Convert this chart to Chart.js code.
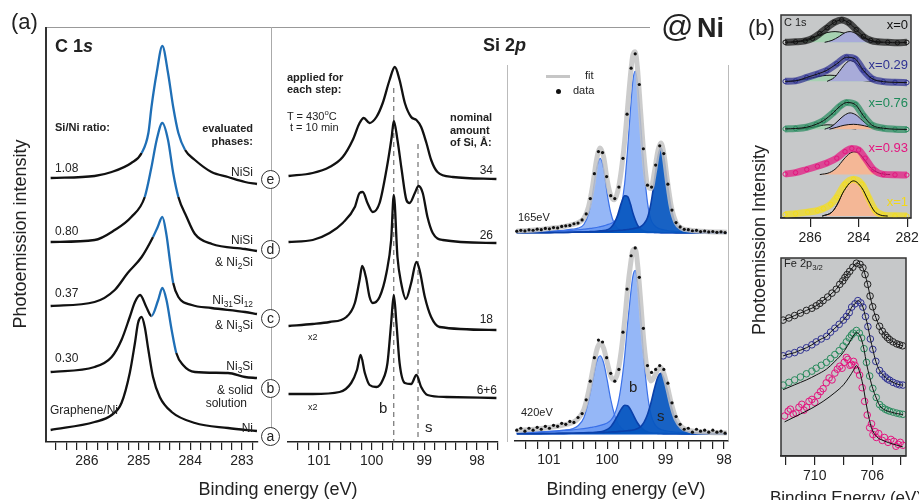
<!DOCTYPE html>
<html>
<head>
<meta charset="utf-8">
<script src="https://cdn.jsdelivr.net/npm/chart.js@4.4.1/dist/chart.umd.min.js"></script>
<style>
  body { margin: 0; width: 919px; height: 500px; overflow: hidden; position: relative; background: #fff;
         font-family: "Liberation Sans", Arial, sans-serif; color: #222; }
  canvas { position: absolute; }
  .t { position: absolute; white-space: nowrap; line-height: 1; }
  .b { font-weight: bold; }
  .r { text-align: right; }
  .ln { position: absolute; }
  .cl { position: absolute; width: 17px; height: 17px; border: 1.3px solid #333; border-radius: 50%;
        background: #fff; font-size: 14px; text-align: center; line-height: 16px; }
  sub { font-size: 70%; vertical-align: -3px; line-height: 0; }
  sup { font-size: 70%; vertical-align: 5px; line-height: 0; }
</style>
</head>
<body>
<!-- frame lines -->
<div class="ln" style="left:46px;top:27px;width:604px;height:1px;background:#999"></div>
<div class="ln" style="left:45px;top:27px;width:1.5px;height:415px;background:#333"></div>
<div class="ln" style="left:271px;top:27px;width:1px;height:418px;background:#aaa"></div>
<div class="ln" style="left:507px;top:65px;width:1px;height:377px;background:#bbb"></div>
<div class="ln" style="left:728px;top:65px;width:1px;height:377px;background:#bbb"></div>

<canvas id="c1sChart"></canvas>
<canvas id="siChart"></canvas>
<canvas id="fitTop"></canvas>
<canvas id="fitBottom"></canvas>
<canvas id="bC1s"></canvas>
<canvas id="bFe"></canvas>

<!-- panel (a) texts -->
<div class="t" style="left:11px;top:11px;font-size:22px">(a)</div>
<div class="t b" style="left:55px;top:37px;font-size:18px">C 1<i>s</i></div>
<div class="t b" style="left:55px;top:122px;font-size:11px">Si/Ni ratio:</div>
<div class="t b r" style="right:666px;top:122px;font-size:11px;line-height:13px">evaluated<br>phases:</div>
<div class="t" style="left:55px;top:162px;font-size:12px">1.08</div>
<div class="t" style="left:55px;top:225px;font-size:12px">0.80</div>
<div class="t" style="left:55px;top:287px;font-size:12px">0.37</div>
<div class="t" style="left:55px;top:352px;font-size:12px">0.30</div>
<div class="t" style="left:50px;top:404px;font-size:12px">Graphene/Ni</div>
<div class="t r" style="right:666px;top:166px;font-size:12px">NiSi</div>
<div class="t r" style="right:666px;top:234px;font-size:12px">NiSi</div>
<div class="t r" style="right:666px;top:256px;font-size:12px">&amp; Ni<sub>2</sub>Si</div>
<div class="t r" style="right:666px;top:294px;font-size:12px">Ni<sub>31</sub>Si<sub>12</sub></div>
<div class="t r" style="right:666px;top:319px;font-size:12px">&amp; Ni<sub>3</sub>Si</div>
<div class="t r" style="right:666px;top:360px;font-size:12px">Ni<sub>3</sub>Si</div>
<div class="t r" style="right:666px;top:384px;font-size:12px">&amp; solid</div>
<div class="t r" style="right:672px;top:397px;font-size:12px">solution</div>
<div class="t r" style="right:666px;top:422px;font-size:12px">Ni</div>

<div class="cl" style="left:261px;top:170px">e</div>
<div class="cl" style="left:261px;top:240px">d</div>
<div class="cl" style="left:261px;top:309px">c</div>
<div class="cl" style="left:261px;top:379px">b</div>
<div class="cl" style="left:261px;top:427px">a</div>

<div class="t b" style="left:287px;top:71px;font-size:11px;line-height:12px">applied for<br>each step:</div>
<div class="t" style="left:287px;top:111px;font-size:11px">T = 430<sup>o</sup>C</div>
<div class="t" style="left:290px;top:122px;font-size:11px">t = 10 min</div>
<div class="t b" style="left:450px;top:111px;font-size:11px;line-height:12.5px">nominal<br>amount<br>of Si, Å:</div>
<div class="t r" style="right:426px;top:164px;font-size:12px">34</div>
<div class="t r" style="right:426px;top:229px;font-size:12px">26</div>
<div class="t r" style="right:426px;top:313px;font-size:12px">18</div>
<div class="t r" style="right:422px;top:384px;font-size:12px">6+6</div>
<div class="t" style="left:308px;top:333px;font-size:9px">x2</div>
<div class="t" style="left:308px;top:403px;font-size:9px">x2</div>
<div class="t" style="left:379px;top:400px;font-size:15px">b</div>
<div class="t" style="left:425px;top:419px;font-size:15px">s</div>
<div class="t b" style="left:483px;top:36px;font-size:18px">Si 2<i>p</i></div>

<div class="t" style="left:661px;top:10px;font-size:32px">@</div>
<div class="t b" style="left:697px;top:15px;font-size:27px">Ni</div>

<div class="ln" style="left:546px;top:75px;width:24px;height:3px;background:#c6c6c6"></div>
<div class="t" style="left:585px;top:70px;font-size:11px">fit</div>
<div class="ln" style="left:556px;top:89px;width:5px;height:5px;border-radius:50%;background:#111"></div>
<div class="t" style="left:573px;top:85px;font-size:11px">data</div>
<div class="t" style="left:518px;top:212px;font-size:11px">165eV</div>
<div class="t" style="left:521px;top:407px;font-size:11px">420eV</div>
<div class="t" style="left:629px;top:379px;font-size:15px">b</div>
<div class="t" style="left:657px;top:408px;font-size:15px">s</div>

<div class="t" style="left:128px;top:480px;width:300px;text-align:center;font-size:18px">Binding energy (eV)</div>
<div class="t" style="left:476px;top:480px;width:300px;text-align:center;font-size:18px">Binding energy (eV)</div>
<div class="t" style="left:-130px;top:225px;width:300px;text-align:center;font-size:18px;transform:rotate(-90deg)">Photoemission intensity</div>

<!-- panel (b) texts -->
<div class="t" style="left:748px;top:17px;font-size:22px">(b)</div>
<div class="t" style="left:609px;top:231px;width:300px;text-align:center;font-size:18px;transform:rotate(-90deg)">Photoemission Intensity</div>
<div class="t" style="left:696px;top:489px;width:300px;text-align:center;font-size:17px">Binding Energy (eV)</div>
<div class="t" style="left:784px;top:17px;font-size:11px">C 1s</div>
<div class="t r" style="right:11px;top:18px;font-size:13px;color:#111">x=0</div>
<div class="t r" style="right:11px;top:58px;font-size:13px;color:#2e3192">x=0.29</div>
<div class="t r" style="right:11px;top:96px;font-size:13px;color:#1f8a5a">x=0.76</div>
<div class="t r" style="right:11px;top:141px;font-size:13px;color:#e4157f">x=0.93</div>
<div class="t r" style="right:11px;top:195px;font-size:13px;color:#f2d81a">x=1</div>
<div class="t" style="left:784px;top:258px;font-size:11px">Fe 2p<sub>3/2</sub></div>

<script>
// ---------- panel (a), C 1s waterfall (intensity, arb. units) ----------
const c1sE_a = [286.70,285.85,285.52,285.33,285.17,285.07,285.01,284.94,284.88,284.81,284.72,284.59,284.36,283.91,283.27,282.71];
const c1sI_a = [12,20,27,39,69,99,119,125,115,92,65,45,30,19,14,11];
const c1sE_b = [286.70,285.85,285.52,285.33,285.17,285.07,284.97,284.85,284.75,284.62,284.54,284.46,284.36,284.27,284.14,283.91,283.27,282.94,282.71];
const c1sI_b = [70,75,85,102,125,140,147,135,126,142,154,142,112,89,77,70,69,65,64];
const c1sE_c = [286.70,285.85,285.46,285.21,284.94,284.72,284.63,284.54,284.46,284.39,284.33,284.23,283.97,283.59,282.94,282.71];
const c1sI_c = [136,140,152,169,185,205,215,225,207,180,159,145,137,134,130,128];
const c1sE_d = [286.70,285.85,285.46,285.14,284.88,284.75,284.65,284.54,284.43,284.33,284.23,284.07,283.91,283.58,282.94,282.71];
const c1sI_d = [200,202,212,225,245,275,302,319,302,269,245,225,208,198,193,191];
const c1sE_e = [286.70,285.85,285.52,285.14,284.94,284.81,284.75,284.65,284.54,284.43,284.33,284.23,284.10,283.91,283.59,283.27,282.94,282.71];
const c1sI_e = [264,266,270,279,289,309,335,369,396,369,335,309,292,282,270,265,260,258];
// energy window of the blue-highlighted peak per curve [low, high]
const c1sBlue = { a: null, b: [284.17, 284.75], c: [284.26, 284.72], d: [284.16, 284.88], e: [284.05, 284.94] };

// ---------- panel (a), Si 2p waterfall ----------
const siE_b = [101.58,101.12,100.61,100.39,100.28,100.21,100.13,100.04,99.91,99.79,99.70,99.63,99.58,99.53,99.47,99.37,99.25,99.15,99.06,98.94,98.58,97.63];
const siI_b = [48,48,50,59,72,87,69,57,55,62,79,119,147,119,79,59,58,67,55,47,45,44];
const siE_c = [101.58,101.12,100.80,100.48,100.32,100.23,100.18,100.11,100.04,99.98,99.85,99.72,99.63,99.58,99.51,99.44,99.35,99.25,99.15,99.09,98.99,98.87,98.71,97.63];
const siI_c = [116,118,120,125,139,162,176,165,145,139,145,169,202,247,185,159,143,159,180,172,145,125,115,112];
const siE_d = [101.58,101.12,100.80,100.55,100.32,100.23,100.17,100.08,99.98,99.85,99.72,99.62,99.58,99.51,99.43,99.34,99.28,99.18,99.11,99.03,98.94,98.84,98.65,97.63];
const siI_d = [200,202,209,219,235,249,250,239,230,239,272,305,321,302,272,242,239,249,256,249,225,209,202,199];
const siE_e = [101.58,101.12,100.80,100.55,100.36,100.23,100.15,100.04,99.91,99.79,99.66,99.56,99.47,99.37,99.25,99.15,99.06,98.96,98.87,98.75,98.46,97.63];
const siI_e = [266,269,275,285,302,319,324,319,325,339,362,375,362,339,325,322,315,299,282,270,265,263];
const dashB = { x: 99.58, top: 354 };
const dashS = { x: 99.12, top: 298 };

// ---------- panel (a), Si 2p peak fits ----------
const fitE = [101.55,101.3,101.1,100.9,100.75,100.6,100.5,100.4,100.32,100.25,100.18,100.12,100.06,100.0,99.94,99.88,99.82,99.76,99.7,99.65,99.6,99.56,99.52,99.48,99.43,99.37,99.31,99.25,99.19,99.13,99.08,99.03,98.97,98.9,98.82,98.72,98.6,98.45,98.25,97.95];
const up165_b32 = [0.9,1.2,1.6,2.0,2.4,2.9,3.5,4.1,4.7,5.2,5.9,6.8,7.6,8.8,10.1,11.8,16.9,28,52,88,130,159,169,156,117,68,32,14,8,5.2,4.1,3.4,2.6,2.1,1.6,1.3,1.0,0.8,0.5,0.3];
const up165_b12 = [0.9,1.2,1.6,2.3,3.0,4.1,5.2,9.0,20,41,68,78,67,41,21.5,10,4.8,2.7,2.1,1.6,1.3,1.2,1.05,0.9,0.8,0.7,0.6,0.5,0.45,0.4,0.35,0.3,0.3,0.25,0.2,0.2,0.15,0.1,0.1,0.1];
const up165_s12 = [0.24,0.36,0.46,0.6,0.7,0.9,1.1,1.2,1.5,1.7,2.0,2.3,2.6,3.5,5.6,10.4,19,31,39,38,30,21,14,8.4,4.4,2.2,1.4,1.0,0.8,0.6,0.5,0.45,0.4,0.35,0.3,0.28,0.25,0.2,0.15,0.1];
const up165_s32 = [0.3,0.38,0.48,0.58,0.7,0.9,1.0,1.1,1.2,1.4,1.5,1.7,1.9,2.0,2.1,2.5,2.8,3.0,3.4,3.7,4.2,4.6,5.1,5.6,6.7,9.8,16,31,55,80,89,79,52,24.5,9,3.1,1.8,1.1,0.7,0.4];
const up165_fit = [2.3,3.1,4.1,5.5,6.8,8.8,10.8,15.4,27.4,49.3,77.4,88.8,79.1,55.3,39.3,34.7,43.5,64.7,96.5,131.3,165.5,185.8,189.2,170.9,128.9,80.7,50,46.5,64.2,86.2,94,83.2,55.3,27.2,11.1,4.9,3.2,2.2,1.5,0.9];
const lo420_b32 = [1.6,2.0,2.4,3.0,3.7,4.3,5.0,5.7,6.3,7.2,8.0,8.9,10,11.4,14,19.5,30,50,80,113,142,161,167,155,122,76,41,20,10.5,6.3,4.8,3.8,3.2,2.5,2.0,1.5,1.2,0.9,0.6,0.4];
const lo420_b12 = [1.4,1.8,2.4,3.1,4.0,5.4,8.6,16.8,34,54,74,80,72.5,55,35.6,20.8,11.2,6.3,3.8,2.8,2.3,2.0,1.7,1.5,1.3,1.1,1.0,0.9,0.8,0.7,0.65,0.6,0.55,0.5,0.45,0.4,0.35,0.3,0.25,0.2];
const lo420_s12 = [0.33,0.42,0.5,0.66,0.8,0.96,1.1,1.3,1.5,1.7,2.0,2.3,3.2,4.8,7.5,12.6,19,25.5,29.4,29,25,20.4,15.6,11.4,7.4,4.0,2.3,1.35,0.95,0.78,0.63,0.55,0.48,0.4,0.35,0.3,0.25,0.2,0.15,0.1];
const lo420_s32 = [0.37,0.46,0.58,0.71,0.8,0.92,1.0,1.15,1.3,1.45,1.55,1.7,1.85,1.95,2.2,2.35,2.6,2.9,3.2,3.5,3.85,4.25,4.8,5.75,7.5,12,20,32,46.6,58.4,62,57,44.7,27.6,13,5,2.1,1.15,0.75,0.4];
const lo420_fit = [3.7,4.7,5.9,7.5,9.3,11.6,15.7,25,43.1,64.4,85.6,92.9,87.6,73.2,59.3,55.3,62.8,84.7,116.4,148.3,173.2,187.7,189.1,173.7,138.2,93.1,64.3,54.3,58.9,66.2,68.1,62,48.9,31,15.8,7.2,3.9,2.55,1.75,1.1];
const dotE = [101.55,101.48,101.41,101.34,101.27,101.2,101.13,101.06,100.99,100.92,100.85,100.78,100.71,100.64,100.57,100.5,100.43,100.36,100.29,100.22,100.15,100.08,100.01,99.94,99.87,99.8,99.73,99.66,99.59,99.52,99.45,99.38,99.31,99.24,99.17,99.1,99.03,98.96,98.89,98.82,98.75,98.68,98.61,98.54,98.47,98.4,98.33,98.26,98.19,98.12,98.05,97.98];
const up165_dots = [2.0,2.9,2.3,3.4,3.0,4.1,3.6,4.9,4.5,5.8,5.4,7.0,7.6,8.0,9.8,10.5,13.8,20,36,62,85,84,59,39,36,48,78,124,172,187,155,88,50,48,71,91,83,51,24,11,6.5,4.0,3.6,2.5,2.9,1.6,2.2,1.2,1.7,0.8,1.4,0.6];
const lo420_dots = [4,6,3,6,4,7,5,8,6,9,8,11,10,13,12,17,21,35,54,78,96,94,78,62,54,66,104,148,182,190,160,108,70,63,66,70,66,52,32,18,10,5,6,2,5,3,4,2,4,2,3,1];

// ---------- panel (b), C 1s of the x series ----------
const bx0_E = [287.03,286.6,286.2,285.9,285.6,285.3,285.0,284.7,284.4,284.1,283.8,283.5,283.2,282.8,282.4,282.01];
const bx0_I = [180,180.5,181.5,184,189,195,200.5,203,200,193,186,182,180.5,180,179.5,180];
const bx0_greenE = [286.8,286.4,286.0,285.6,285.3,284.97,284.6,284.3,284.0,283.6,283.2];
const bx0_greenI = [180,181.5,184,187.5,190,191,189.5,186.5,183.5,181,180];
const bx0_blueE = [285.4,285.1,284.8,284.55,284.35,284.1,283.85,283.6,283.3,283.0];
const bx0_blueI = [180,182,186,190,191,189,185.5,182.5,180.5,180];
const bx29_E = [287.03,286.6,286.14,285.7,285.31,284.9,284.49,284.14,283.8,283.46,282.98,282.5,282.01];
const bx29_I = [140,140.5,144,147.5,151.3,158,164.7,163,151.3,143,139.7,139,138.7];
const bx29_greenE = [286.9,286.4,285.9,285.5,285.18,284.8,284.4,284.0,283.6,283.3];
const bx29_greenI = [140,141.5,143.8,145.7,146.3,145.5,143.5,141.5,140.3,140];
const bx29_blueE = [285.3,285.0,284.8,284.6,284.35,284.1,283.85,283.6,283.35,283.0];
const bx29_blueI = [140,144,150,156.5,161.3,158.5,152,145.5,141.5,140];
const bx76_E = [287.03,286.6,286.14,285.75,285.45,285.04,284.76,284.49,284.14,283.8,283.46,282.98,282.5,282.01];
const bx76_I = [91.3,91.7,93,96,99.7,108,114.7,118.3,116.3,104.7,95.3,92,91,90.7];
const bx76_greenE = [286.5,286.0,285.6,285.3,285.0,284.7,284.4,284.1];
const bx76_greenI = [91,92.5,94.5,95.5,95,93.5,92,91];
const bx76_blueE = [285.4,285.1,284.85,284.6,284.35,284.1,283.85,283.6,283.3,283.0];
const bx76_blueI = [91,94,99.5,105,107.7,105.5,100,95,92,91];
const bx76_salmonE = [285.2,284.9,284.6,284.21,283.9,283.6,283.3,283.0];
const bx76_salmonI = [91,93,95,96,95.2,93.5,92,91];
const bx93_E = [287.03,286.6,286.14,285.7,285.31,284.9,284.56,284.28,284.0,283.73,283.39,282.98,282.5,282.01];
const bx93_I = [45,46.5,49.7,53,56.3,61.3,68,71.3,69.7,61.3,49.7,44.7,44.2,44];
const bx93_salmonE = [285.6,285.2,284.9,284.6,284.35,284.2,284.0,283.75,283.5,283.2,282.9,282.7];
const bx93_salmonI = [44.5,46.5,51.5,60.5,66.5,67.8,66.5,59.5,51.5,46.5,44.8,44.5];
const bx1_E = [287.03,286.6,286.1,285.7,285.45,285.15,284.9,284.56,284.21,283.87,283.6,283.32,282.98,282.5,282.01];
const bx1_I = [3.5,4.5,6,7.5,9.7,14,21.3,34.7,39.7,34.7,21.3,8,3,2.2,2];
const bx1_salmonE = [285.5,285.1,284.9,284.6,284.21,283.87,283.6,283.35,283.1,282.8];
const bx1_salmonI = [2,6,13,28,38,31,18,7,3,2];
const bBase = { x0: 180, x29: 140, x76: 91, x93: 44.5, x1: 2 };

// ---------- panel (b), Fe 2p3/2 ----------
const feK_E = [712.2,711.8,711.4,711.0,710.58,710.2,709.9,709.65,709.42,709.1,708.8,708.5,708.26,708.05,707.9,707.75,707.57,707.35,707.1,706.85,706.65,706.5,706.32,706.15,705.97,705.75,705.49,705.3,705.1,704.95,704.79,704.55,704.3,704.1,703.89];
const feK_I = [139.3,141.5,144,146.5,149.3,151.5,154,156.5,159.3,163,167,171,176,179.5,183,186,189.3,193.5,197.7,196.5,193,186,176,164,153,142,133,128,124,121.5,119.3,117,115,114,113];
const feN_E = [712.2,711.8,711.4,711.0,710.58,710.2,709.9,709.55,709.17,708.9,708.6,708.3,708.01,707.8,707.6,707.43,707.2,707.0,706.8,706.65,706.47,706.3,706.13,705.96,705.75,705.49,705.3,705.1,704.95,704.79,704.55,704.3,704.1,703.87];
const feN_I = [102.7,104.5,106,108.5,111,114,117,120,122.7,127,131,135,139.3,143,147,152.7,156,159.3,157,152.7,143,132.7,120,109.3,97,87.7,84,81,79,77.7,75.5,74,73,72.7];
const feG_E = [712.2,711.8,711.4,711.0,710.58,710.2,709.9,709.55,709.19,708.9,708.6,708.3,708.03,707.8,707.6,707.45,707.33,707.1,706.9,706.74,706.57,706.4,706.18,705.96,705.72,705.49,705.3,705.1,704.95,704.79,704.55,704.3,704.1,703.87];
const feG_I = [72.7,75.5,78,81,84.3,87,90,93,96,100,104,108,112.7,117,121,124,126,128.7,126,121,110,96,82,69.3,60,52.7,50,48,47,46,45,44,43.3,42.7];
const feG_fitE = [712.2,711.4,710.58,709.9,709.19,708.6,708.03,707.6,707.33,707.1,706.9,706.74,706.57,706.4,706.18,705.96,705.72,705.49,705.1,704.79,704.3,703.87];
const feG_fitI = [68,73,78,83,89,97,106,116,123,126.5,124.5,119,109,95,81,69,59.5,52,47,45.5,43.5,42.5];
const feM_E = [712.1,711.85,711.7,711.5,711.3,711.1,710.9,710.75,710.58,710.4,710.2,710.0,709.8,709.6,709.42,709.2,709.0,708.8,708.6,708.43,708.26,708.1,707.95,707.8,707.7,707.55,707.45,707.3,707.2,707.05,706.88,706.7,706.53,706.35,706.18,706.05,705.95,705.8,705.72,705.55,705.3,705.15,704.9,704.7,704.5,704.35,704.2,704.05,703.87];
const feM_I = [41,46,48,43,44,50,53,47,50,56,58,55,62,66,69,75,80,78,85,89,92,90,96,101,99,93,94,97,93,88,83,70,56,42,29,33,22,25,19,23,16,19,14,17,15,10,12,14,11];
const feM_fitE = [712.1,711.0,710.2,709.42,708.6,708.0,707.6,707.3,707.1,706.85,706.65,706.35,706.06,705.7,705.26,704.5,703.87];
const feM_fitI = [35,43,49,56,65,73,81,88,92.7,85,72.7,48,29.3,20,16,12,9.3];

// ---------- helpers ----------
Chart.defaults.font.family = "'Liberation Sans', Arial, sans-serif";
const pts = (E, I) => E.map((e, i) => ({ x: e, y: I[i] }));
const intLabel = v => (Math.abs(v - Math.round(v)) < 0.01 ? String(Math.round(v)) : '');

const panelBox = {
  id: 'panelBox',
  beforeDraw(chart) {
    const { ctx, chartArea: a } = chart;
    ctx.save(); ctx.fillStyle = '#c6c8c9'; ctx.fillRect(a.left, a.top, a.width, a.height); ctx.restore();
  },
  afterDraw(chart) {
    const { ctx, chartArea: a } = chart;
    ctx.save(); ctx.strokeStyle = '#333'; ctx.lineWidth = 1.5; ctx.strokeRect(a.left, a.top, a.width, a.height); ctx.restore();
  }
};

function makeChart(id, box, x, y, datasets, plugins) {
  const pad = 26;
  const axisH = x.axisH || 0;
  const cv = document.getElementById(id);
  cv.width = box.w + 2 * pad;
  cv.height = box.h + axisH;
  cv.style.left = (box.x - pad) + 'px';
  cv.style.top = box.y + 'px';
  datasets.forEach((d, i) => { d.order = datasets.length - i; });  // first listed = drawn first
  return new Chart(cv, {
    type: 'line',
    data: { datasets },
    options: {
      responsive: false, animation: false, devicePixelRatio: 1,
      layout: { padding: { left: pad, right: pad, top: 0, bottom: 0 } },
      plugins: { legend: { display: false }, tooltip: { enabled: false } },
      elements: {
        point: { radius: 0 },
        line: { borderWidth: 2.2, borderColor: '#111', cubicInterpolationMode: 'monotone', fill: false }
      },
      scales: {
        x: {
          type: 'linear', reverse: true, min: x.min, max: x.max,
          display: axisH > 0,
          afterFit: s => { s.height = axisH; },
          grid: { drawOnChartArea: false, drawTicks: true, tickLength: x.tickLen || 8, color: '#222', lineWidth: 1.2 },
          border: { display: true, color: '#222', width: 1.5 },
          ticks: { stepSize: x.step, autoSkip: false, maxRotation: 0, includeBounds: false, padding: 3,
                   color: '#222', font: { size: 14 }, callback: x.label }
        },
        y: { display: false, min: y.min, max: y.max }
      }
    },
    plugins: plugins || []
  });
}

// ---------- (a) C 1s ----------
const BLUE = '#1f6fb6';
function c1sLine(E, I, win) {
  const ds = { data: pts(E, I), borderColor: '#111', borderWidth: 2.3 };
  if (win) ds.segment = { borderColor: c => {
    const lo = Math.min(c.p0.parsed.x, c.p1.parsed.x), hi = Math.max(c.p0.parsed.x, c.p1.parsed.x);
    return (lo >= win[0] && hi <= win[1]) ? BLUE : undefined;
  } };
  return ds;
}
makeChart('c1sChart', { x: 46, y: 27, w: 212, h: 415 },
  { min: 282.69, max: 286.79, step: 0.2, axisH: 40, label: intLabel },
  { min: 0, max: 415 },
  [c1sLine(c1sE_a, c1sI_a, c1sBlue.a), c1sLine(c1sE_b, c1sI_b, c1sBlue.b), c1sLine(c1sE_c, c1sI_c, c1sBlue.c),
   c1sLine(c1sE_d, c1sI_d, c1sBlue.d), c1sLine(c1sE_e, c1sI_e, c1sBlue.e)]);

// ---------- (a) Si 2p waterfall ----------
const dashLine = d => ({ data: [{ x: d.x, y: d.top }, { x: d.x, y: 0 }], borderColor: '#555', borderWidth: 1,
                         borderDash: [5, 4], cubicInterpolationMode: 'default', tension: 0 });
makeChart('siChart', { x: 288, y: 27, w: 210, h: 415 },
  { min: 97.60, max: 101.59, step: 0.2, axisH: 40, label: intLabel },
  { min: 0, max: 415 },
  [dashLine(dashB), dashLine(dashS),
   { data: pts(siE_b, siI_b), borderWidth: 2.3 }, { data: pts(siE_c, siI_c), borderWidth: 2.3 },
   { data: pts(siE_d, siI_d), borderWidth: 2.3 }, { data: pts(siE_e, siI_e), borderWidth: 2.3 }]);

// ---------- (a) Si 2p fits ----------
const LIGHT = { backgroundColor: 'rgba(84,138,242,0.62)', borderColor: '#3a70e8', borderWidth: 1.2, fill: { value: 0 } };
const DARK = { backgroundColor: 'rgba(6,86,192,0.93)', borderColor: '#0a40aa', borderWidth: 1.6, fill: { value: 0 } };
function fitSets(b12, b32, s12, s32, fit, dots) {
  return [
    Object.assign({ data: pts(fitE, b12) }, LIGHT),
    Object.assign({ data: pts(fitE, b32) }, LIGHT),
    Object.assign({ data: pts(fitE, s12) }, DARK),
    Object.assign({ data: pts(fitE, s32) }, DARK),
    { data: pts(fitE, fit), borderColor: 'rgba(195,195,195,0.85)', borderWidth: 5 },
    { data: pts(dotE, dots), showLine: false, pointRadius: 1.6, pointBackgroundColor: '#111', pointBorderWidth: 0 }
  ];
}
makeChart('fitTop', { x: 515, y: 45, w: 213, h: 195 },
  { min: 97.93, max: 101.58, step: 0.2, axisH: 0, label: intLabel },
  { min: -3, max: 192 },
  fitSets(up165_b12, up165_b32, up165_s12, up165_s32, up165_fit, up165_dots));
makeChart('fitBottom', { x: 515, y: 240, w: 213, h: 201 },
  { min: 97.93, max: 101.58, step: 0.2, axisH: 40, label: intLabel },
  { min: -7, max: 194 },
  fitSets(lo420_b12, lo420_b32, lo420_s12, lo420_s32, lo420_fit, lo420_dots));

// ---------- (b) C 1s ----------
const COMP = { green: '#a6d2b2', blue: '#a8abd9', salmon: '#f4b796' };
const comp = (E, I, color, base) => ({ data: pts(E, I), backgroundColor: color, borderColor: '#111', borderWidth: 1, fill: { value: base } });
const band = (E, I, rgb) => ({ data: pts(E, I), borderColor: `rgba(${rgb},0.72)`, borderWidth: 7,
  pointRadius: 2.2, pointBorderWidth: 1, pointBorderColor: `rgb(${rgb})`, pointBackgroundColor: 'rgba(0,0,0,0)' });
const thin = (E, I) => ({ data: pts(E, I), borderColor: '#111', borderWidth: 1 });
makeChart('bC1s', { x: 781, y: 10, w: 130, h: 208 },
  { min: 281.84, max: 287.2, step: 2, axisH: 30, tickLen: 9, label: v => String(Math.round(v)) },
  { min: 0, max: 208 },
  [comp(bx0_greenE, bx0_greenI, COMP.green, bBase.x0), comp(bx0_blueE, bx0_blueI, COMP.blue, bBase.x0),
   band(bx0_E, bx0_I, '20,20,20'), thin(bx0_E, bx0_I),
   comp(bx29_greenE, bx29_greenI, COMP.green, bBase.x29), comp(bx29_blueE, bx29_blueI, COMP.blue, bBase.x29),
   band(bx29_E, bx29_I, '46,49,146'), thin(bx29_E, bx29_I),
   comp(bx76_greenE, bx76_greenI, COMP.green, bBase.x76), comp(bx76_blueE, bx76_blueI, COMP.blue, bBase.x76),
   comp(bx76_salmonE, bx76_salmonI, COMP.salmon, bBase.x76),
   band(bx76_E, bx76_I, '40,140,95'), thin(bx76_E, bx76_I),
   comp(bx93_salmonE, bx93_salmonI, COMP.salmon, bBase.x93), band(bx93_E, bx93_I, '228,21,127'),
   comp(bx1_salmonE, bx1_salmonI, COMP.salmon, bBase.x1), band(bx1_E, bx1_I, '245,222,26'),
   thin(bx1_salmonE, bx1_salmonI)],
  [panelBox]);

// ---------- (b) Fe 2p3/2 ----------
const circles = (E, I, color) => ({ data: pts(E, I), showLine: false, pointRadius: 3.3, pointBorderWidth: 1,
  pointBorderColor: color, pointBackgroundColor: 'rgba(0,0,0,0)' });
makeChart('bFe', { x: 781, y: 253, w: 125, h: 203 },
  { min: 703.65, max: 712.35, step: 2, axisH: 30, tickLen: 9, label: v => (Math.round(v) % 4 === 2 ? String(Math.round(v)) : '') },
  { min: 0, max: 203 },
  [circles(feK_E, feK_I, '#222'), thin(feK_E, feK_I),
   circles(feN_E, feN_I, '#2e3192'), thin(feN_E, feN_I),
   circles(feG_E, feG_I, '#2a8c5e'), thin(feG_fitE, feG_fitI),
   circles(feM_E, feM_I, '#e4157f'), thin(feM_fitE, feM_fitI)],
  [panelBox]);
</script>
</body>
</html>
